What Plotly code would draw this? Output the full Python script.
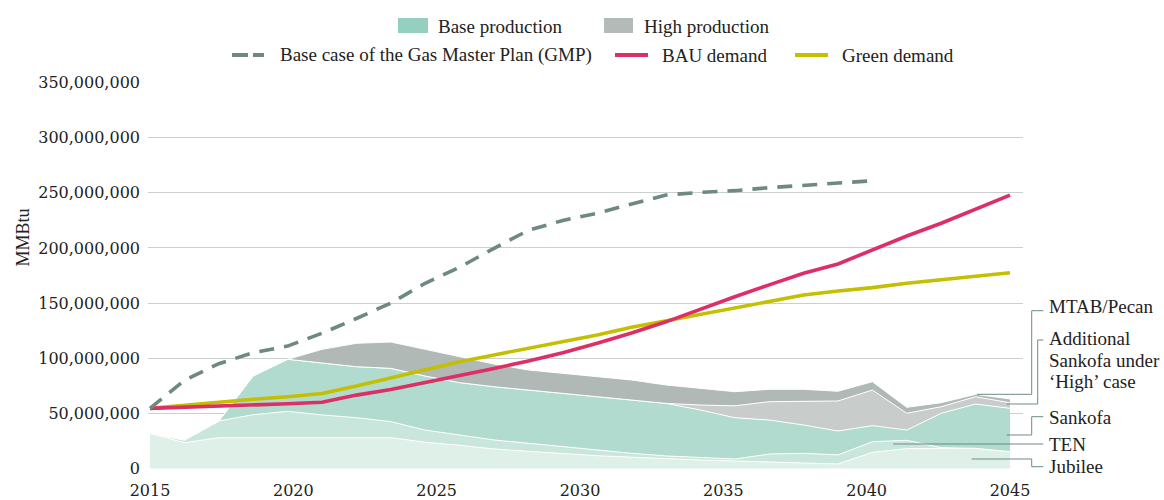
import plotly.graph_objects as go

# ---------------- data (values in million MMBtu) ----------------
SCALE = 1e6
years = [2015.0, 2016.2, 2017.4, 2018.6, 2019.8, 2021.0, 2022.2, 2023.4, 2024.6,
         2025.8, 2027.0, 2028.2, 2029.4, 2030.6, 2031.8, 2033.0, 2034.2, 2035.4,
         2036.6, 2037.8, 2039.0, 2040.2, 2041.4, 2042.6, 2043.8, 2045.0]

jubilee = [31.8, 23.3, 27.9, 27.9, 27.9, 27.9, 27.9, 27.9, 23.7, 21.0, 17.6, 15.8, 13.5,
           11.5, 10.0, 8.8, 7.6, 6.7, 5.8, 5.2, 4.0, 14.6, 17.9, 18.2, 18.2, 15.2]
ten = [0.0, 2.5, 15.1, 20.8, 23.9, 20.6, 18.1, 14.5, 11.1, 9.3, 8.2, 7.0, 6.2,
       5.2, 3.7, 2.5, 2.1, 1.8, 7.2, 8.5, 8.2, 9.6, 7.6, 0.6, 0.0, 0.0]
sankofa = [0.0, 0.0, 0.0, 35.3, 47.2, 46.9, 46.3, 48.4, 49.0, 47.5, 48.3, 48.3, 48.4,
           47.8, 48.3, 47.7, 43.3, 37.5, 30.9, 25.7, 21.7, 14.6, 9.3, 31.2, 40.2, 39.3]
add_sankofa = [0.0, 0.0, 0.0, 0.0, 0.0, 0.0, 0.0, 0.0, 0.0, 0.0, 0.0, 0.0, 0.0,
               0.0, 0.0, 0.0, 4.5, 10.8, 16.6, 21.6, 27.3, 32.3, 15.2, 6.0, 6.6, 5.1]
mtab_pecan = [0.0, 0.0, 0.0, 0.0, 0.0, 12.6, 21.2, 23.9, 24.2, 23.6, 20.6, 18.2, 18.2,
              18.7, 18.2, 16.7, 15.2, 12.8, 11.3, 10.8, 8.8, 7.6, 5.4, 3.6, 2.2, 3.4]

gmp = [54.5, 80.0, 95.0, 105.0, 111.0, 122.6, 136.0, 150.0, 168.0, 182.5, 199.7,
       216.0, 225.0, 231.5, 240.0, 248.0, 250.5, 252.0, 254.7, 257.0, 258.7, 261.0]
bau = [54.5, 55.4, 56.6, 58.0, 58.7, 60.0, 66.5, 71.5, 77.8, 84.0, 90.6, 97.5, 105.0,
       113.5, 122.8, 133.0, 144.5, 155.8, 166.5, 177.0, 185.5, 198.0, 210.9, 222.4, 235.0, 248.0]
green = [54.5, 57.5, 60.5, 62.7, 65.0, 68.0, 74.8, 81.9, 89.3, 96.8, 102.9, 109.0, 115.0,
         121.0, 128.0, 133.8, 139.2, 145.3, 151.3, 157.3, 161.0, 164.0, 168.0, 171.0, 174.0, 177.6]

x_ticks = [2015, 2020, 2025, 2030, 2035, 2040, 2045]
y_ticks = [0, 50, 100, 150, 200, 250, 300, 350]

# ---------------- geometry / style ----------------
W, H = 1164, 500
X0, X1, Y0, Y1 = 148, 1023, 82, 469          # plot box in px
XR = [2014.930, 2045.4535]
YR = [-0.544e6, 350.6e6]

def pap_x(px):
    return (px - X0) / (X1 - X0)

def pap_y(py):
    return (Y1 - py) / (Y1 - Y0)

TXT = "Liberation Serif"
NUM = "DejaVu Serif"
TXT_COL = "#222222"
LEAD = "#6f8a83"
C_GMP = "#6d8981"
C_BAU = "#dd2e66"
C_GREEN = "#c4bf00"
FS = 19

fig = go.Figure()

layers = [
    ("Jubilee", jubilee, "#dff0e9"),
    ("TEN", ten, "#c8e6dc"),
    ("Sankofa", sankofa, "#b0dbce"),
    ("Additional Sankofa under 'High' case", add_sankofa, "#c8cdcc"),
    ("MTAB/Pecan", mtab_pecan, "#b1b9b7"),
]
for name, vals, col in layers:
    fig.add_trace(go.Scatter(
        x=years, y=[v * SCALE for v in vals], name=name, stackgroup="prod",
        mode="lines", line=dict(color="white", width=1), fillcolor=col,
        showlegend=False, hoverinfo="x+y+name"))

fig.add_trace(go.Scatter(x=years, y=[v * SCALE for v in green], name="Green demand",
                         mode="lines", line=dict(color=C_GREEN, width=3.6), showlegend=False))
fig.add_trace(go.Scatter(x=years, y=[v * SCALE for v in bau], name="BAU demand",
                         mode="lines", line=dict(color=C_BAU, width=3.6), showlegend=False))
fig.add_trace(go.Scatter(x=years[:len(gmp)], y=[v * SCALE for v in gmp],
                         name="Base case of the Gas Master Plan (GMP)", mode="lines",
                         line=dict(color=C_GMP, width=3.6, dash="15px,10px"), showlegend=False))

shapes = []
annotations = []

def text(px, py, s, anchor="left", size=FS, angle=0):
    annotations.append(dict(xref="paper", yref="paper", x=pap_x(px), y=pap_y(py), text=s,
                            showarrow=False, xanchor=anchor, yanchor="middle",
                            textangle=angle, align="left",
                            font=dict(family=TXT, size=size, color=TXT_COL)))

def rect(x0, y0, x1, y1, col):
    shapes.append(dict(type="rect", xref="paper", yref="paper", x0=pap_x(x0), x1=pap_x(x1),
                       y0=pap_y(y1), y1=pap_y(y0), fillcolor=col, line=dict(width=0)))

def seg(x0, x1, y, col, width=4, dash="solid"):
    shapes.append(dict(type="line", xref="paper", yref="paper", x0=pap_x(x0), x1=pap_x(x1),
                       y0=pap_y(y), y1=pap_y(y), line=dict(color=col, width=width, dash=dash)))

def path(points, col=LEAD):
    d = "M " + " L ".join(f"{pap_x(a):.5f},{pap_y(b):.5f}" for a, b in points)
    shapes.append(dict(type="path", xref="paper", yref="paper", path=d,
                       line=dict(color=col, width=1)))

# legend row 1
rect(398, 18, 428, 33, "#94cfbf")
text(436, 26, "Base production")
rect(604, 18, 633, 33, "#b3bab8")
text(642, 26, "High production")
# legend row 2
seg(232, 248, 55, C_GMP)
seg(253, 264, 55, C_GMP)
text(278, 55, "Base case of the Gas Master Plan (GMP)")
seg(615, 648, 55, C_BAU)
text(660, 55, "BAU demand")
seg(795, 828, 55, C_GREEN)
text(840, 55, "Green demand")

# y-axis title
text(22, 237.5, "MMBtu", anchor="center", angle=-90, size=18)

# right-side layer labels and leaders
text(1046.5, 306.7, "MTAB/Pecan")
text(1046.5, 338, "Additional")
text(1046.5, 360, "Sankofa under")
text(1046.5, 381.7, "‘High’ case")
text(1046.5, 417.3, "Sankofa")
text(1046.5, 444, "TEN")
text(1046.5, 466.7, "Jubilee")
path([(1043.3, 310.7), (1031.7, 310.7), (1031.7, 394.3), (976.7, 394.3)])
path([(1043.3, 340), (1037.7, 340), (1037.7, 404), (1006.7, 404)])
path([(1043.3, 416.7), (1031.7, 416.7), (1031.7, 435), (1006.7, 435)])
path([(1043.3, 444), (893.3, 444)])
path([(1043.3, 466.7), (1031.7, 466.7), (1031.7, 459), (971.7, 459)])

fig.update_layout(
    width=W, height=H, autosize=False,
    margin=dict(l=X0, r=W - X1, t=Y0, b=H - Y1, pad=0, autoexpand=False),
    paper_bgcolor="white", plot_bgcolor="white",
    showlegend=False, shapes=shapes, annotations=annotations,
    font=dict(family=TXT, color=TXT_COL),
    xaxis=dict(range=XR, tickvals=x_ticks, ticktext=[str(v) for v in x_ticks],
               showgrid=False, zeroline=False, showline=False, ticks="", automargin=False,
               tickfont=dict(family=NUM, size=16, color=TXT_COL), ticklabelstandoff=10),
    yaxis=dict(range=YR, tickvals=[v * SCALE for v in y_ticks], tickformat=",d",
               showgrid=True, gridcolor="#c9d0cd", gridwidth=1, zeroline=False,
               showline=False, ticks="", automargin=False,
               tickfont=dict(family=NUM, size=16, color=TXT_COL), ticklabelstandoff=7),
)

fig.write_html("out.html", config={"displayModeBar": False},
               post_script="document.body.style.margin='0px';"
               "document.body.style.overflow='hidden';")
